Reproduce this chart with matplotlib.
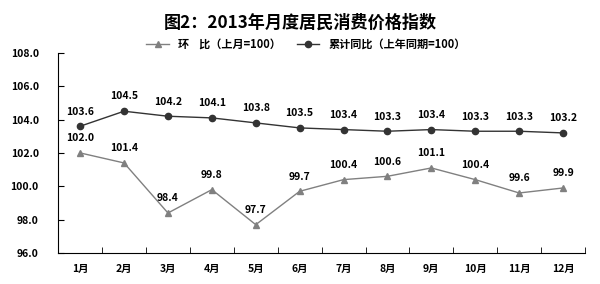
import numpy as np
import matplotlib.pyplot as plt

plt.rcParams['font.family'] = ['Noto Sans CJK SC', 'DejaVu Sans']

months = ['1月', '2月', '3月', '4月', '5月', '6月', '7月', '8月', '9月', '10月', '11月', '12月']
mom = [102.0, 101.4, 98.4, 99.8, 97.7, 99.7, 100.4, 100.6, 101.1, 100.4, 99.6, 99.9]
yoy_cum = [103.6, 104.5, 104.2, 104.1, 103.8, 103.5, 103.4, 103.3, 103.4, 103.3, 103.3, 103.2]
yticks = [96.0, 98.0, 100.0, 102.0, 104.0, 106.0, 108.0]

fig = plt.figure(figsize=(6, 2.84), dpi=100)
ax = fig.add_axes([0.097, 0.109, 0.878, 0.705])

x = np.arange(len(months))
ax.plot(x, mom, color='#808080', lw=1, marker='^', ms=4.5, label='环    比（上月=100）')
ax.plot(x, yoy_cum, color='#333333', lw=1, marker='o', ms=4.5, label='累计同比（上年同期=100）')

for xi, v in zip(x, mom):
    ax.annotate(f'{v:.1f}', (xi, v), xytext=(0, 7), textcoords='offset points',
                ha='center', va='bottom', fontsize=7.5, fontweight='bold')
for xi, v in zip(x, yoy_cum):
    ax.annotate(f'{v:.1f}', (xi, v), xytext=(0, 7), textcoords='offset points',
                ha='center', va='bottom', fontsize=7.5, fontweight='bold')

ax.set_xlim(-0.5, len(months) - 0.5)
ax.set_ylim(96, 108)
ax.set_yticks(yticks)
ax.set_yticklabels([f'{t:.1f}' for t in yticks], fontsize=7.5, fontweight='bold')
ax.set_xticks(x)
ax.set_xticklabels(months, fontsize=7.5, fontweight='bold')
ax.set_xticks(np.arange(len(months) + 1) - 0.5, minor=True)
ax.tick_params(axis='x', which='major', length=0, pad=8)
ax.tick_params(axis='x', which='minor', direction='in', length=4)
ax.tick_params(axis='y', direction='in', length=4, pad=14)

ax.spines['top'].set_visible(False)
ax.spines['right'].set_visible(False)

fig.suptitle('图2：2013年月度居民消费价格指数', y=0.95, fontsize=12.3, fontweight='bold')
fig.legend(loc='center', bbox_to_anchor=(0.51, 0.845), ncol=2, frameon=False,
           handlelength=2, columnspacing=1.5, prop={'weight': 'bold', 'size': 8})

fig.savefig('out.png', dpi=100)
